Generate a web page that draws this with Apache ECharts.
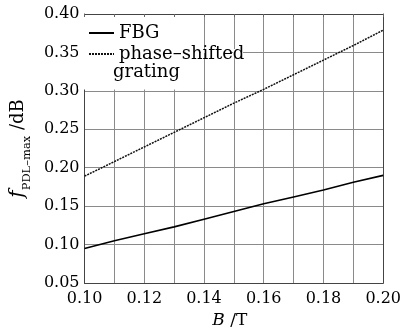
<!DOCTYPE html>
<html>
<head>
<meta charset="utf-8">
<script src="https://cdn.jsdelivr.net/npm/echarts@6/dist/echarts.min.js"></script>
<style>
  html, body { margin: 0; padding: 0; background: #fff; }
  #chart { width: 404px; height: 334px; }
</style>
</head>
<body>
<div id="chart"></div>
<script>
// magnetic field B (T)
var fieldB = [0.10, 0.11, 0.12, 0.13, 0.14, 0.15, 0.16, 0.17, 0.18, 0.19, 0.20]
// f_PDL-max (dB)
var fbgValues = [0.095, 0.105, 0.114, 0.123, 0.133, 0.143, 0.153, 0.162, 0.171, 0.181, 0.190]
var phaseValues = [0.189, 0.208, 0.227, 0.246, 0.265, 0.284, 0.302, 0.321, 0.340, 0.359, 0.379]
var seriesNames = ['FBG', 'phase–shifted']

var FONT = 'DejaVu Serif'

function pairs (xs, ys) {
  var arr = []
  for (var i = 0; i < xs.length; i++) {
    arr.push([xs[i], ys[i]])
  }
  return arr
}

var chart = echarts.init(document.getElementById('chart'), null, {renderer: 'canvas'})

var option = {
  animation: false,
  backgroundColor: '#fff',
  textStyle: {fontFamily: FONT, color: '#000'},
  grid: {left: 77, top: 14, right: 18, bottom: 51},
  legend: {
    orient: 'vertical',
    left: 83,
    top: 19,
    padding: 5,
    itemWidth: 25,
    itemHeight: 10,
    itemGap: 3,
    itemStyle: {opacity: 0},
    textStyle: {fontFamily: FONT, fontSize: 18, color: '#000', lineHeight: 18},
    data: seriesNames
  },
  xAxis: [{
    type: 'value',
    min: 0.1,
    max: 0.2,
    interval: 0.01,
    name: '{i|B} /T',
    nameLocation: 'middle',
    nameGap: 22,
    nameTextStyle: {
      fontFamily: FONT,
      fontSize: 17,
      color: '#000',
      padding: [0, 8, 0, 0],
      rich: {
        i: {fontFamily: FONT, fontSize: 17, fontStyle: 'italic', color: '#000'}
      }
    },
    axisLine: {show: true, lineStyle: {color: '#444', width: 1}},
    axisTick: {show: false},
    axisLabel: {
      margin: 8,
      fontFamily: FONT,
      fontSize: 16,
      color: '#000',
      formatter: function (v) {
        var n = Math.round(v * 100)
        return n % 2 === 0 ? v.toFixed(2) : ''
      }
    },
    splitLine: {show: true, lineStyle: {color: '#8a8a8a', width: 1}}
  }, {
    type: 'value',
    position: 'top',
    min: 0.1,
    max: 0.2,
    interval: 0.01,
    z: 3,
    axisLine: {show: true, lineStyle: {color: '#444', width: 1}},
    axisTick: {show: true, inside: true, length: 3, lineStyle: {color: '#666'}},
    axisLabel: {show: false},
    splitLine: {show: false}
  }],
  yAxis: [{
    type: 'value',
    min: 0.05,
    max: 0.4,
    interval: 0.05,
    name: '{f|f}{sub|PDL–max}{u| /dB}',
    nameLocation: 'middle',
    nameRotate: 90,
    nameGap: 45,
    nameTextStyle: {
      fontFamily: FONT,
      color: '#000',
      rich: {
        f: {fontFamily: FONT, fontSize: 20, fontStyle: 'italic', color: '#000', lineHeight: 30},
        sub: {fontFamily: FONT, fontSize: 11.5, color: '#000', lineHeight: 12, verticalAlign: 'bottom'},
        u: {fontFamily: FONT, fontSize: 18, color: '#000', lineHeight: 30}
      }
    },
    axisLine: {show: true, lineStyle: {color: '#444', width: 1}},
    axisTick: {show: false},
    axisLabel: {
      margin: 5,
      fontFamily: FONT,
      fontSize: 16,
      color: '#000',
      formatter: function (v) { return v.toFixed(2) }
    },
    splitLine: {show: true, lineStyle: {color: '#8a8a8a', width: 1}}
  }, {
    type: 'value',
    position: 'right',
    min: 0.05,
    max: 0.4,
    interval: 0.05,
    axisLine: {show: true, lineStyle: {color: '#444', width: 1}},
    axisTick: {show: false},
    axisLabel: {show: false},
    splitLine: {show: false}
  }],
  // legend box hides the grid behind it
  graphic: [
    {type: 'rect', z: 1, shape: {x: 78, y: 15, width: 121, height: 74.5}, style: {fill: '#fff'}},
    {type: 'rect', z: 1, shape: {x: 201, y: 49, width: 30, height: 4}, style: {fill: '#fff'}},
    {type: 'rect', z: 1, shape: {x: 233, y: 49, width: 10, height: 4}, style: {fill: '#fff'}},
    {
      type: 'text',
      z: 5,
      left: 113,
      top: 63,
      style: {text: 'grating', font: '18px "DejaVu Serif"', fill: '#000'}
    }
  ],
  series: [
    {
      name: seriesNames[0],
      type: 'line',
      symbol: 'none',
      z: 4,
      lineStyle: {color: '#000', width: 1.6, type: 'solid'},
      itemStyle: {color: '#000'},
      data: pairs(fieldB, fbgValues)
    },
    {
      name: seriesNames[1],
      type: 'line',
      symbol: 'none',
      z: 4,
      lineStyle: {color: '#111', width: 1.5, type: [2, 1]},
      itemStyle: {color: '#111'},
      data: pairs(fieldB, phaseValues)
    }
  ]
}

chart.setOption(option)
</script>
</body>
</html>
